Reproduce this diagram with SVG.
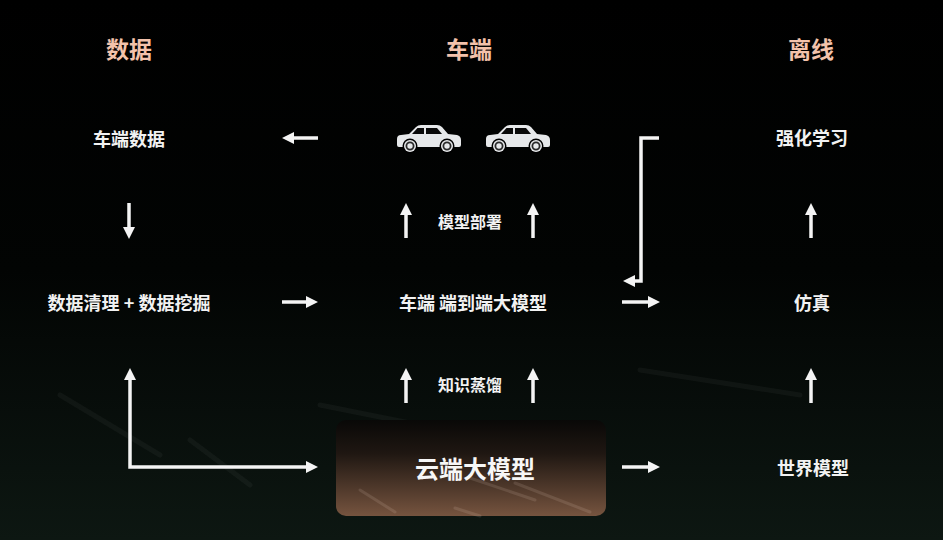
<svg xmlns="http://www.w3.org/2000/svg" width="943" height="540" viewBox="0 0 943 540">
  <style>
    .hdr { font-family: "Noto Sans CJK SC", "Noto Sans", sans-serif; font-weight: 700; font-size: 23px; fill: #f3c2ab; text-anchor: middle; dominant-baseline: central; }
    .lbl { font-family: "Noto Sans CJK SC", "Noto Sans", sans-serif; font-weight: 700; font-size: 18px; fill: #f2f2f2; text-anchor: middle; dominant-baseline: central; }
    .sub { font-family: "Noto Sans CJK SC", "Noto Sans", sans-serif; font-weight: 700; font-size: 16px; fill: #f2f2f2; text-anchor: middle; dominant-baseline: central; }
    .big { font-family: "Noto Sans CJK SC", "Noto Sans", sans-serif; font-weight: 700; font-size: 24px; fill: #f7f7f7; text-anchor: middle; dominant-baseline: central; }
    .arr { fill: none; stroke: #f4f4f4; stroke-width: 3.5; marker-end: url(#head); }
    .streak { stroke: #ffffff; stroke-opacity: 0.04; stroke-width: 5; stroke-linecap: round; }
    .bstreak { stroke: #ffe8d8; stroke-opacity: 0.12; stroke-width: 3; stroke-linecap: round; }
  </style>
  <defs>
    <linearGradient id="bg" x1="0" y1="0" x2="0" y2="1">
      <stop offset="0" stop-color="#000000"/>
      <stop offset="0.5" stop-color="#020403"/>
      <stop offset="1" stop-color="#0d1712"/>
    </linearGradient>
    <linearGradient id="cloud" x1="0" y1="0" x2="0" y2="1">
      <stop offset="0" stop-color="#090807"/>
      <stop offset="0.35" stop-color="#1f1712"/>
      <stop offset="1" stop-color="#76543f"/>
    </linearGradient>
    <marker id="head" viewBox="0 0 12 12" markerWidth="12" markerHeight="12" refX="2" refY="6" orient="auto-start-reverse" markerUnits="userSpaceOnUse">
      <path d="M0,0 L12,6 L0,12 Z" fill="#f4f4f4"/>
    </marker>
    <g id="car">
      <path d="M0,16 Q0,12 4,12 L12,11 L19,4 Q21,2 24,2 L40,2 Q43,2 45,4 L51,11 L60,12 Q64,13 64,17 L64,22 Q64,24 62,24 L2,24 Q0,24 0,22 Z" fill="#e6e8ea"/>
      <path d="M15,11 L20.5,5 L27,5 L27,11 Z" fill="#0a0a0a"/>
      <path d="M29,5 L40,5 L45,11 L29,11 Z" fill="#0a0a0a"/>
      <circle cx="13" cy="23" r="7.5" fill="#000"/>
      <circle cx="50" cy="23" r="7.5" fill="#000"/>
      <circle cx="13" cy="23" r="6" fill="#e6e8ea"/>
      <circle cx="50" cy="23" r="6" fill="#e6e8ea"/>
      <circle cx="13" cy="23" r="3.6" fill="none" stroke="#2a2a2a" stroke-width="1.8"/>
      <circle cx="50" cy="23" r="3.6" fill="none" stroke="#2a2a2a" stroke-width="1.8"/>
    </g>
  </defs>

  <rect x="0" y="0" width="943" height="540" fill="url(#bg)"/>
  <g id="background-streaks">
    <line class="streak" x1="60" y1="395" x2="160" y2="455"/>
    <line class="streak" x1="190" y1="440" x2="250" y2="485"/>
    <line class="streak" x1="320" y1="405" x2="420" y2="425"/>
    <line class="streak" x1="640" y1="370" x2="800" y2="395"/>
  </g>

  <g id="headers">
    <text class="hdr" x="129" y="48">数据</text>
    <text class="hdr" x="469" y="48">车端</text>
    <text class="hdr" x="811" y="48">离线</text>
  </g>

  <g id="node-vehicle-data"><text class="lbl" x="129" y="138">车端数据</text></g>
  <g id="node-cleaning"><text class="lbl" x="129" y="302">数据清理 + 数据挖掘</text></g>
  <g id="node-cars">
    <use href="#car" x="397" y="123"/>
    <use href="#car" x="486" y="123"/>
  </g>
  <g id="node-deploy-label"><text class="sub" x="470" y="221">模型部署</text></g>
  <g id="node-e2e"><text class="lbl" x="473" y="302">车端 端到端大模型</text></g>
  <g id="node-distill-label"><text class="sub" x="470" y="384">知识蒸馏</text></g>
  <g id="node-cloud">
    <rect x="336" y="420" width="270" height="96" rx="10" fill="url(#cloud)"/>
    <line class="bstreak" x1="470" y1="478" x2="535" y2="500"/>
    <line class="bstreak" x1="515" y1="483" x2="590" y2="512"/>
    <line class="bstreak" x1="455" y1="508" x2="480" y2="516"/>
    <line class="bstreak" x1="360" y1="490" x2="395" y2="512"/>
    <text class="big" x="475" y="467">云端大模型</text>
  </g>
  <g id="node-rl"><text class="lbl" x="812" y="137">强化学习</text></g>
  <g id="node-sim"><text class="lbl" x="812" y="302">仿真</text></g>
  <g id="node-world"><text class="lbl" x="813" y="467">世界模型</text></g>

  <g id="connectors">
    <line class="arr" x1="318" y1="138" x2="292" y2="138"/>
    <line class="arr" x1="129" y1="203" x2="129" y2="229"/>
    <line class="arr" x1="282" y1="302" x2="308" y2="302"/>
    <line class="arr" x1="622" y1="302" x2="650" y2="302"/>
    <line class="arr" x1="406" y1="238" x2="406" y2="213"/>
    <line class="arr" x1="533" y1="238" x2="533" y2="213"/>
    <line class="arr" x1="406" y1="403" x2="406" y2="378"/>
    <line class="arr" x1="533" y1="403" x2="533" y2="378"/>
    <line class="arr" x1="811" y1="238" x2="811" y2="213"/>
    <line class="arr" x1="811" y1="403" x2="811" y2="378"/>
    <path class="arr" d="M659,138 H641 V281 H633"/>
    <path class="arr" d="M130,378 V467 H308" marker-start="url(#head)"/>
    <line class="arr" x1="622" y1="467" x2="650" y2="467"/>
  </g>
</svg>
